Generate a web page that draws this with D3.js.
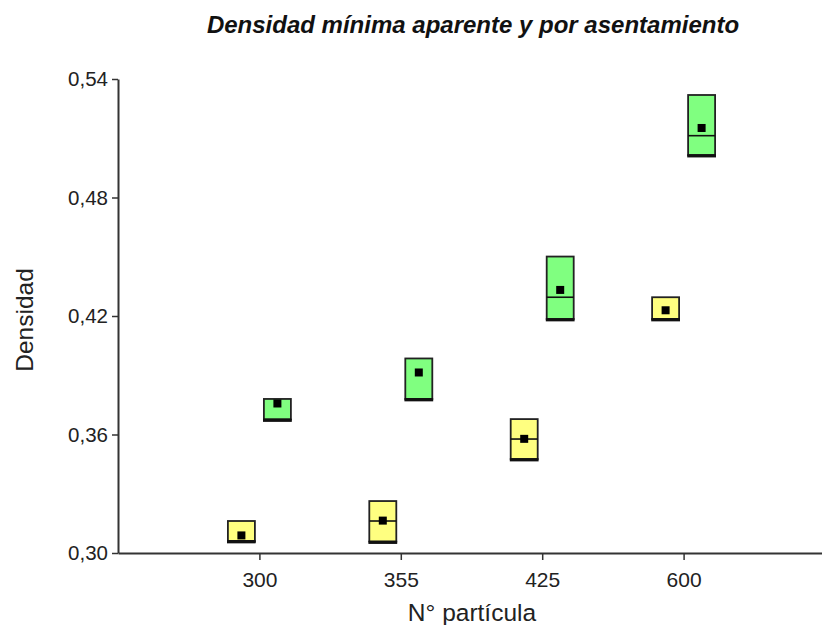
<!DOCTYPE html>
<html>
<head>
<meta charset="utf-8">
<script src="https://cdn.jsdelivr.net/npm/d3@7"></script>
<style>
  html, body { margin: 0; padding: 0; background: #fff; }
  svg { display: block; }
  text { font-family: "Liberation Sans", Arial, sans-serif; }
</style>
</head>
<body>
<svg id="chart" width="822" height="625"></svg>
<script>
const categories = ["300", "355", "425", "600"];
const yTicks = [0.30, 0.36, 0.42, 0.48, 0.54];

// Yellow series (left box)
const yellowMin    = [0.3061, 0.3058, 0.3476, 0.4185];
const yellowMax    = [0.3162, 0.3263, 0.3678, 0.4295];
const yellowMedian = [0.3061, 0.3162, 0.3577, 0.4185];
const yellowMean   = [0.3089, 0.3164, 0.3578, 0.4229];

// Green series (right box)
const greenMin    = [0.3676, 0.3780, 0.4185, 0.5015];
const greenMax    = [0.3780, 0.3985, 0.4501, 0.5319];
const greenMedian = [0.3676, 0.3780, 0.4295, 0.5113];
const greenMean   = [0.3757, 0.3914, 0.4332, 0.5152];

const series = [
  { name: "yellow", color: "#ffff80", offset: -18, min: yellowMin, max: yellowMax, median: yellowMedian, mean: yellowMean },
  { name: "green",  color: "#80ff80", offset: 18,  min: greenMin,  max: greenMax,  median: greenMedian,  mean: greenMean }
];

const svg = d3.select("#chart");
const mLeft = 118, mRight = 825, mTop = 79, mBottom = 553;

const x = d3.scalePoint().domain(categories).range([mLeft, mRight]).padding(1);
const y = d3.scaleLinear().domain([0.30, 0.54]).range([mBottom, mTop]);

const fmt = d => d.toFixed(2).replace(".", ",");
const FONT = "'Liberation Sans', Arial, sans-serif";

// Y axis
const gy = svg.append("g").attr("transform", `translate(${mLeft},0)`)
  .call(d3.axisLeft(y).tickValues(yTicks).tickFormat(fmt).tickSize(6).tickSizeOuter(0));
gy.select(".domain").attr("stroke", "#333").attr("stroke-width", 2);
gy.selectAll(".tick line").attr("stroke", "#333").attr("stroke-width", 1.5);
gy.selectAll(".tick text").attr("font-size", 20.5).attr("fill", "#222").attr("x", -10)
  .style("font-family", FONT);

// X axis
const gx = svg.append("g").attr("transform", `translate(0,${mBottom})`)
  .call(d3.axisBottom(x).tickSize(7).tickSizeOuter(0));
gx.select(".domain").attr("stroke", "#333").attr("stroke-width", 2);
gx.selectAll(".tick line").attr("stroke", "#333").attr("stroke-width", 1.5);
gx.selectAll(".tick text").attr("font-size", 21).attr("fill", "#222").attr("y", 19)
  .style("font-family", FONT);

// Boxes
const bw = 27;
series.forEach(s => {
  const g = svg.append("g");
  categories.forEach((c, i) => {
    const cx = x(c) + s.offset;
    const y0 = y(s.max[i]), y1 = y(s.min[i]);
    g.append("rect")
      .attr("x", cx - bw / 2).attr("y", y0)
      .attr("width", bw).attr("height", y1 - y0)
      .attr("fill", s.color).attr("stroke", "#222").attr("stroke-width", 1.8);
    g.append("line")
      .attr("x1", cx - bw / 2).attr("x2", cx + bw / 2)
      .attr("y1", y(s.median[i])).attr("y2", y(s.median[i]))
      .attr("stroke", "#111").attr("stroke-width", 1.6);
    g.append("line")
      .attr("x1", cx - bw / 2 - 0.9).attr("x2", cx + bw / 2 + 0.9)
      .attr("y1", y1 + 0.8).attr("y2", y1 + 0.8)
      .attr("stroke", "#111").attr("stroke-width", 3.2);
    g.append("rect")
      .attr("x", cx - 4).attr("y", y(s.mean[i]) - 4)
      .attr("width", 8).attr("height", 8)
      .attr("fill", "#000");
  });
});

// Title
svg.append("text")
  .attr("x", 473).attr("y", 33)
  .attr("text-anchor", "middle")
  .attr("font-size", 24).attr("font-weight", "bold").attr("font-style", "italic")
  .attr("fill", "#111")
  .style("font-family", FONT)
  .text("Densidad mínima aparente y por asentamiento");

// Axis labels
svg.append("text")
  .attr("transform", "translate(33,320) rotate(-90)")
  .attr("text-anchor", "middle")
  .attr("font-size", 24.5).attr("fill", "#222")
  .style("font-family", FONT)
  .text("Densidad");

svg.append("text")
  .attr("x", 472).attr("y", 621)
  .attr("text-anchor", "middle")
  .attr("font-size", 24.5).attr("fill", "#222")
  .style("font-family", FONT)
  .text("N° partícula");
</script>
</body>
</html>
